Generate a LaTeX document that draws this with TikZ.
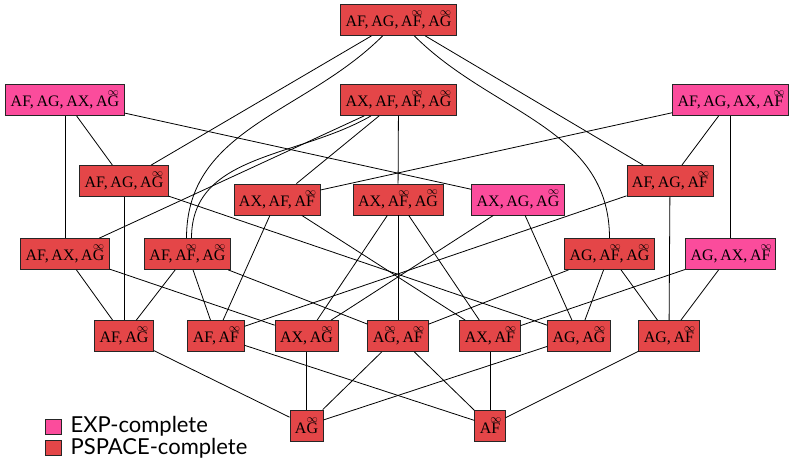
\documentclass[tikz,border=0pt]{standalone}
\usepackage{amsmath}
\usepackage{fontspec}
\setmainfont{Liberation Serif}
\newfontfamily\legendfont{Lato}

\definecolor{pspace}{HTML}{E44648}
\definecolor{exptime}{HTML}{FB4C9C}

% operator with an infinity mark set above its second letter
\newsavebox{\letterbox}
\newsavebox{\infbox}
\newcommand{\ovinf}[1]{\leavevmode
  \sbox{\letterbox}{#1}%
  \sbox{\infbox}{\fontsize{11}{11}\selectfont$\infty$}%
  \rlap{\hbox to\wd\letterbox{\hss\raise\dimexpr\ht\letterbox+0.7pt\relax\copy\infbox\hss}}%
  \usebox{\letterbox}}
\newcommand{\sep}{,\,}
\newcommand{\AFi}{A\ovinf{F}}
\newcommand{\AGi}{A\ovinf{G}}

\tikzset{
  frag/.style={draw=black!85, line width=0.8pt, fill=pspace, text=black,
    minimum height=31pt, inner xsep=5pt, inner ysep=2pt,
    font=\fontsize{16}{18}\selectfont},
  fragexp/.style={frag, fill=exptime},
  link/.style={line width=0.8pt, draw=black},
  legsq/.style={draw=black!85, line width=0.8pt, minimum width=16pt, minimum height=15pt, inner sep=0pt},
  legtext/.style={anchor=west, inner sep=0pt, font=\legendfont\fontsize{22}{24}\selectfont},
}

\begin{document}
\begin{tikzpicture}[x=1pt, y=1pt]
\useasboundingbox (0,0) rectangle (790,-464);

% top
\node[frag] (T) at (398.5,-20) {AF\sep AG\sep \AFi\sep \AGi};

% four operators
\node[fragexp] (L1) at (65,-100) {AF\sep AG\sep AX\sep \AGi};
\node[frag] (M1) at (398.5,-100) {AX\sep AF\sep \AFi\sep \AGi};
\node[fragexp] (R1) at (730.5,-100) {AF\sep AG\sep AX\sep \AFi};

% three operators
\node[frag] (a1) at (124,-181) {AF\sep AG\sep \AGi};
\node[frag] (a2) at (277,-199.5) {AX\sep AF\sep \AFi};
\node[frag] (a3) at (398,-199.5) {AX\sep \AFi\sep \AGi};
\node[fragexp] (a4) at (518,-199.5) {AX\sep AG\sep \AGi};
\node[frag] (a5) at (670,-181) {AF\sep AG\sep \AFi};

\node[frag] (b1) at (65,-254) {AF\sep AX\sep \AGi};
\node[frag] (b2) at (187.5,-254) {AF\sep \AFi\sep \AGi};
\node[frag] (b3) at (609.5,-254) {AG\sep \AFi\sep \AGi};
\node[fragexp] (b4) at (730.5,-254) {AG\sep AX\sep \AFi};

% two operators
\node[frag] (c1) at (124,-336) {AF\sep \AGi};
\node[frag] (c2) at (216,-336) {AF\sep \AFi};
\node[frag] (c3) at (306.5,-336) {AX\sep \AGi};
\node[frag] (c4) at (398,-336) {\AGi\sep \AFi};
\node[frag] (c5) at (490,-336) {AX\sep \AFi};
\node[frag] (c6) at (579,-336) {AG\sep \AGi};
\node[frag] (c7) at (669,-336) {AG\sep \AFi};

% single operators
\node[frag] (d1) at (306.5,-425.5) {\AGi};
\node[frag] (d2) at (490,-425.5) {\AFi};

% inclusions
\draw[link] (T) -- (a1);
\draw[link] (T) -- (a5);
\draw[link] (T) to[out=-135, in=90] ([xshift=-1pt]b2.north);
\draw[link] (T) to[out=-45, in=90] (b3.north);

\draw[link] (L1) -- (a1);
\draw[link] (L1) -- (b1);
\draw[link] (L1) -- (a4);

\draw[link] (M1) -- (a2);
\draw[link] (M1) -- (a3);
\draw[link] (M1) -- (b1);
\draw[link] (M1) to[out=-150, in=90] ([xshift=4pt]b2.north);

\draw[link] (R1) -- (a5);
\draw[link] (R1) -- (b4);
\draw[link] (R1) -- (a2);

\draw[link] (a1) -- (c1);
\draw[link] (a1) -- (c6);
\draw[link] (a2) -- (c2);
\draw[link] (a2) -- (c5);
\draw[link] (a3) -- (c3);
\draw[link] (a3) -- (c4);
\draw[link] (a3) -- (c5);
\draw[link] (a4) -- (c3);
\draw[link] (a4) -- (c6);
\draw[link] (a5) -- (c2);
\draw[link] (a5) -- (c7);

\draw[link] (b1) -- (c1);
\draw[link] (b1) -- (c3);
\draw[link] (b2) -- (c1);
\draw[link] (b2) -- (c2);
\draw[link] (b2) -- (c4);
\draw[link] (b3) -- (c6);
\draw[link] (b3) -- (c7);
\draw[link] (b3) -- (c4);
\draw[link] (b4) -- (c7);
\draw[link] (b4) -- (c5);

\draw[link] (c1) -- (d1);
\draw[link] (c3) -- (d1);
\draw[link] (c4) -- (d1);
\draw[link] (c6) -- (d1);
\draw[link] (c2) -- (d2);
\draw[link] (c4) -- (d2);
\draw[link] (c5) -- (d2);
\draw[link] (c7) -- (d2);

% legend
\node[legsq, fill=exptime] (kexp) at (53,-426.5) {};
\node[legtext] (texp) at ([xshift=9pt]kexp.east) {EXP-complete};
\node[legsq, fill=pspace] (kps) at (53,-448) {};
\node[legtext] (tps) at ([xshift=9pt]kps.east) {PSPACE-complete};
\end{tikzpicture}
\end{document}
